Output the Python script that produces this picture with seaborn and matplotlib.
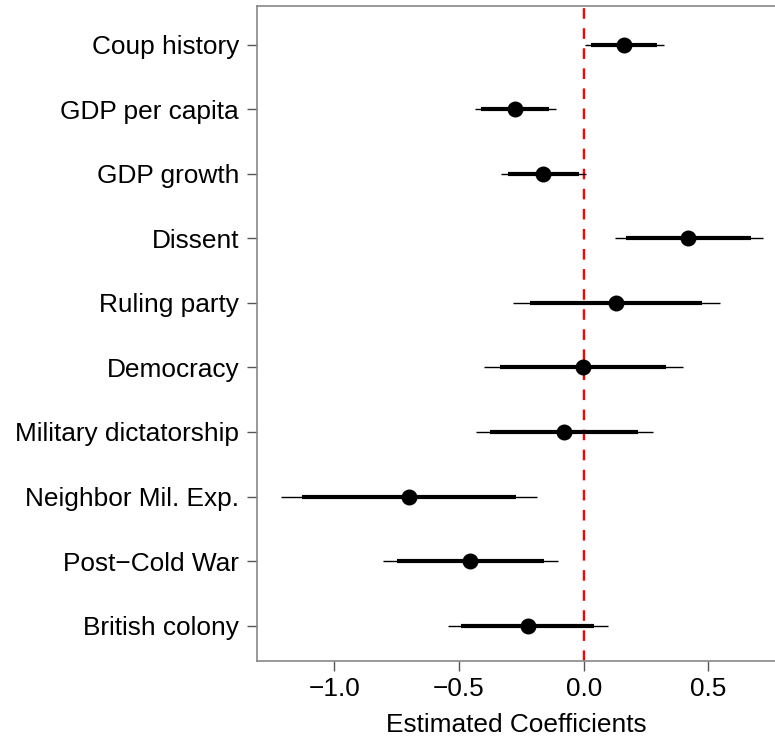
import matplotlib
matplotlib.use("Agg")
import matplotlib.pyplot as plt
import seaborn as sns
import pandas as pd

variables = ["Coup history", "GDP per capita", "GDP growth", "Dissent", "Ruling party",
             "Democracy", "Military dictatorship", "Neighbor Mil. Exp.",
             "Post\u2212Cold War", "British colony"]
estimate = [0.163, -0.277, -0.162, 0.420, 0.131, -0.002, -0.079, -0.701, -0.455, -0.225]
lo90 = [0.031, -0.412, -0.302, 0.171, -0.215, -0.334, -0.375, -1.129, -0.747, -0.493]
hi90 = [0.294, -0.138, -0.018, 0.672, 0.476, 0.331, 0.217, -0.273, -0.160, 0.042]
lo95 = [0.004, -0.437, -0.331, 0.124, -0.283, -0.400, -0.434, -1.214, -0.805, -0.546]
hi95 = [0.321, -0.112, 0.008, 0.720, 0.545, 0.397, 0.276, -0.188, -0.103, 0.097]

df = pd.DataFrame({"variable": variables, "estimate": estimate,
                   "lo90": lo90, "hi90": hi90, "lo95": lo95, "hi95": hi95})

sns.set_style("white")
plt.rcParams["font.family"] = ["Liberation Sans", "DejaVu Sans"]
plt.rcParams["text.color"] = "black"
plt.rcParams["axes.labelcolor"] = "black"
plt.rcParams["xtick.color"] = "black"
plt.rcParams["ytick.color"] = "black"

fig = plt.figure(figsize=(7.75, 7.36), dpi=100)
ax = fig.add_axes([257.1 / 775, 1 - 660.5 / 736, 1 - 257.1 / 775, (660.5 - 5.8) / 736])

ax.axvline(0, color="#ff0000", lw=1.7, ls=(0, (4.5, 4.0)), zorder=1)
ax.hlines(df["variable"], df["lo95"], df["hi95"], color="black", lw=1.0, zorder=2)
ax.hlines(df["variable"], df["lo90"], df["hi90"], color="black", lw=3.0, zorder=3)
sns.scatterplot(data=df, x="estimate", y="variable", ax=ax, color="black",
                s=11.5 ** 2, edgecolor="black", linewidth=0, zorder=4, legend=False)

ax.set_xlim(-1.310, 0.767)
ax.set_ylim(9.54, -0.60)
ax.set_xticks([-1.0, -0.5, 0.0, 0.5])
ax.set_xticklabels(["\u22121.0", "\u22120.5", "0.0", "0.5"])
ax.set_xlabel("Estimated Coefficients", fontsize=18.9, labelpad=8.5, color="black")
ax.set_ylabel("")

for side in ["left", "top", "bottom"]:
    ax.spines[side].set_color("#888888")
    ax.spines[side].set_linewidth(1.2)
ax.spines["right"].set_visible(False)
ax.tick_params(axis="both", which="major", length=7.2, width=1.0, color="#555555",
               labelcolor="black", labelsize=18.9, direction="out", left=True, bottom=True)
ax.tick_params(axis="y", pad=5.8)
ax.tick_params(axis="x", pad=5.0)

fig.savefig("out.png", dpi=100)
